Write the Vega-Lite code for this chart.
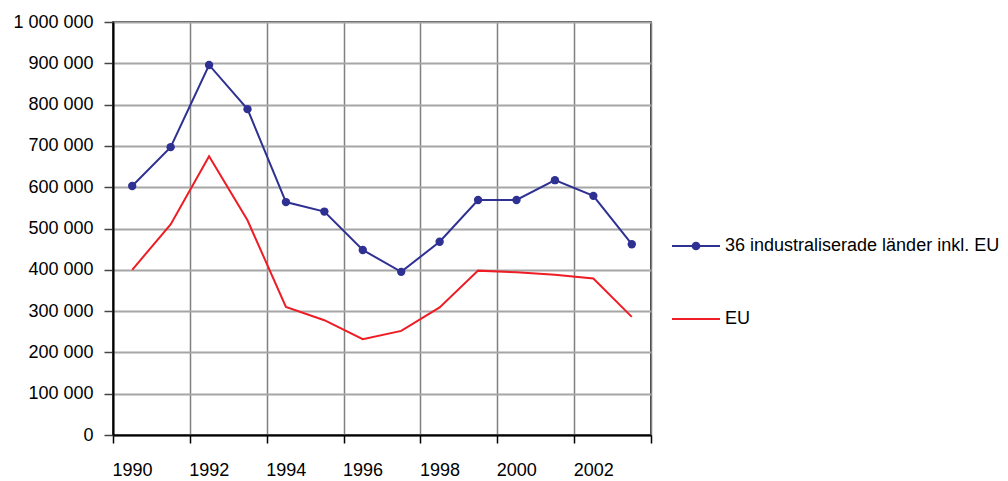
{
  "$schema": "https://vega.github.io/schema/vega-lite/v6.json",
  "width": 538,
  "height": 413,
  "autosize": {"type": "none"},
  "padding": {"left": 113, "top": 22, "right": 357, "bottom": 46},
  "background": "white",
  "config": {
    "font": "Liberation Sans",
    "view": {"stroke": "#000", "strokeWidth": 1.5}
  },
  "data": {
    "values": [
      {"year": 1990, "series": "36 industraliserade länder inkl. EU", "value": 603000},
      {"year": 1991, "series": "36 industraliserade länder inkl. EU", "value": 697000},
      {"year": 1992, "series": "36 industraliserade länder inkl. EU", "value": 896000},
      {"year": 1993, "series": "36 industraliserade länder inkl. EU", "value": 789000},
      {"year": 1994, "series": "36 industraliserade länder inkl. EU", "value": 564000},
      {"year": 1995, "series": "36 industraliserade länder inkl. EU", "value": 541000},
      {"year": 1996, "series": "36 industraliserade länder inkl. EU", "value": 448000},
      {"year": 1997, "series": "36 industraliserade länder inkl. EU", "value": 395000},
      {"year": 1998, "series": "36 industraliserade länder inkl. EU", "value": 468000},
      {"year": 1999, "series": "36 industraliserade länder inkl. EU", "value": 569000},
      {"year": 2000, "series": "36 industraliserade länder inkl. EU", "value": 569000},
      {"year": 2001, "series": "36 industraliserade länder inkl. EU", "value": 617000},
      {"year": 2002, "series": "36 industraliserade länder inkl. EU", "value": 579000},
      {"year": 2003, "series": "36 industraliserade länder inkl. EU", "value": 462000},
      {"year": 1990, "series": "EU", "value": 400000},
      {"year": 1991, "series": "EU", "value": 510000},
      {"year": 1992, "series": "EU", "value": 675000},
      {"year": 1993, "series": "EU", "value": 520000},
      {"year": 1994, "series": "EU", "value": 310000},
      {"year": 1995, "series": "EU", "value": 278000},
      {"year": 1996, "series": "EU", "value": 232000},
      {"year": 1997, "series": "EU", "value": 252000},
      {"year": 1998, "series": "EU", "value": 309000},
      {"year": 1999, "series": "EU", "value": 398000},
      {"year": 2000, "series": "EU", "value": 394000},
      {"year": 2001, "series": "EU", "value": 388000},
      {"year": 2002, "series": "EU", "value": 379000},
      {"year": 2003, "series": "EU", "value": 286000}
    ]
  },
  "encoding": {
    "x": {
      "field": "year",
      "type": "quantitative",
      "scale": {"domain": [1989.5, 2003.5], "nice": false, "zero": false},
      "axis": {
        "values": [1989.5, 1991.5, 1993.5, 1995.5, 1997.5, 1999.5, 2001.5, 2003.5],
        "labelExpr": "datum.value < 2003 ? toString(datum.value + 0.5) : ''",
        "labelOffset": 19,
        "title": null,
        "grid": true,
        "gridColor": "#808080",
        "gridWidth": 1.5,
        "tickSize": 8,
        "tickColor": "#000",
        "tickWidth": 1.5,
        "domainColor": "#000",
        "domainWidth": 2,
        "labelFontSize": 18,
        "labelColor": "#000",
        "labelPadding": 18,
        "labelFlush": false,
        "labelOverlap": false
      }
    },
    "y": {
      "field": "value",
      "type": "quantitative",
      "scale": {"domain": [0, 1000000], "nice": false},
      "axis": {
        "values": [0, 100000, 200000, 300000, 400000, 500000, 600000, 700000, 800000, 900000, 1000000],
        "labelExpr": "replace(replace(format(datum.value, ','), ',', ' '), ',', ' ')",
        "title": null,
        "grid": true,
        "gridColor": "#a6a6a6",
        "gridWidth": 2,
        "tickSize": 9,
        "tickColor": "#444",
        "tickWidth": 1.5,
        "domainColor": "#000",
        "domainWidth": 2,
        "labelFontSize": 18,
        "labelColor": "#000",
        "labelPadding": 11
      }
    }
  },
  "layer": [
    {
      "mark": {"type": "line", "strokeWidth": 2},
      "encoding": {
        "color": {
          "field": "series",
          "type": "nominal",
          "sort": null,
          "scale": {"domain": ["36 industraliserade länder inkl. EU", "EU"], "range": ["#2e3192", "#ee1c25"]},
          "legend": {
            "title": null,
            "orient": "none",
            "legendX": 558,
            "legendY": 199,
            "direction": "vertical",
            "padding": 0,
            "rowPadding": 39,
            "symbolSize": 2304,
            "symbolStrokeWidth": 2,
            "labelFontSize": 18,
            "labelColor": "#000",
            "labelOffset": 4,
            "labelLimit": 400,
            "encode": {
              "symbols": {
                "update": {
                  "shape": {"signal": "datum.value === 'EU' ? 'M-1,0H1' : 'M-1,0H1M-0.14,0A0.14,0.14,0,1,1,0.14,0A0.14,0.14,0,1,1,-0.14,0Z'"},
                  "fill": {"scale": "color", "field": "value"},
                  "stroke": {"scale": "color", "field": "value"},
                  "strokeWidth": {"value": 2},
                  "opacity": {"value": 1}
                }
              }
            }
          }
        }
      }
    },
    {
      "transform": [{"filter": "datum.series !== 'EU'"}],
      "mark": {"type": "point", "filled": true, "size": 70, "opacity": 1},
      "encoding": {
        "color": {
          "field": "series",
          "type": "nominal",
          "scale": {"domain": ["36 industraliserade länder inkl. EU", "EU"], "range": ["#2e3192", "#ee1c25"]},
          "legend": null
        }
      }
    }
  ]
}
